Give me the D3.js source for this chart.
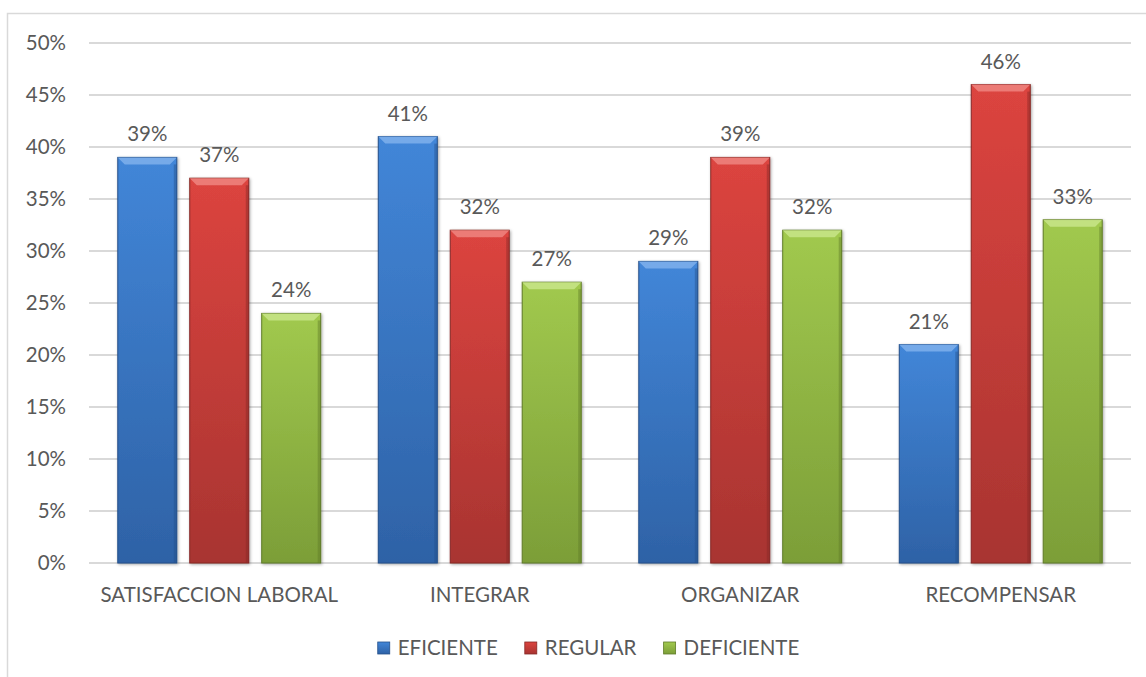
<!DOCTYPE html>
<html>
<head>
<meta charset="utf-8">
<script src="https://cdn.jsdelivr.net/npm/d3@7"></script>
<style>
body { margin: 0; background: #fff; }
text { font-family: Lato, "Open Sans", sans-serif; fill: #595959; }
</style>
</head>
<body>
<div id="chart"></div>
<script>
// data
var categories = ["SATISFACCION LABORAL", "INTEGRAR", "ORGANIZAR", "RECOMPENSAR"];
var seriesNames = ["EFICIENTE", "REGULAR", "DEFICIENTE"];
var eficiente = [39, 41, 29, 21];
var regular = [37, 32, 39, 46];
var deficiente = [24, 27, 32, 33];
var yTicks = [0, 5, 10, 15, 20, 25, 30, 35, 40, 45, 50];

var seriesValues = [eficiente, regular, deficiente];
var colors = {
    EFICIENTE: { top: "#4286d8", bottom: "#2e62a6", edge: "#24508a", bevel: "#7fb0ec" },
    REGULAR: { top: "#dc443f", bottom: "#a83431", edge: "#862826", bevel: "#ee8580" },
    DEFICIENTE: { top: "#a1c94e", bottom: "#7c9e38", edge: "#5f7b28", bevel: "#c8e58a" }
};

var width = 1146;
var height = 677;
var fontSize = "20.5px";

var svg = d3.select("#chart").append("svg")
    .attr("width", width)
    .attr("height", height);

var defs = svg.append("defs");
seriesNames.forEach(function(name) {
    var g = defs.append("linearGradient")
        .attr("id", "grad-" + name)
        .attr("x1", 0).attr("y1", 0).attr("x2", 0).attr("y2", 1);
    g.append("stop").attr("offset", "0%").attr("stop-color", colors[name].top);
    g.append("stop").attr("offset", "100%").attr("stop-color", colors[name].bottom);
});
var shadow = defs.append("filter").attr("id", "shadow")
    .attr("x", "-20%").attr("y", "-10%").attr("width", "140%").attr("height", "120%");
shadow.append("feDropShadow")
    .attr("dx", 1).attr("dy", 1).attr("stdDeviation", 1.5)
    .attr("flood-color", "#000").attr("flood-opacity", 0.35);

// outer chart frame (continues off the right/bottom edge)
svg.append("rect")
    .attr("x", 7.5).attr("y", 13.5)
    .attr("width", 1150).attr("height", 700)
    .attr("fill", "none")
    .attr("stroke", "#d9d9d9")
    .attr("stroke-width", 1.5);

var y = d3.scaleLinear()
    .domain([0, 50])
    .range([563, 43]);

var x0 = d3.scaleBand()
    .domain(categories)
    .range([89, 1131]);

var x1 = d3.scaleBand()
    .domain(seriesNames)
    .range([0, x0.bandwidth()])
    .paddingInner(0.18)
    .paddingOuter(0.4);

// gridlines
svg.append("g")
    .selectAll("line")
    .data(yTicks)
    .enter().append("line")
    .attr("x1", 89)
    .attr("x2", 1131)
    .attr("y1", function(d) { return y(d); })
    .attr("y2", function(d) { return y(d); })
    .attr("stroke", "#d9d9d9")
    .attr("stroke-width", 2);

// y labels
svg.append("g")
    .selectAll("text")
    .data(yTicks)
    .enter().append("text")
    .attr("x", 66)
    .attr("y", function(d) { return y(d); })
    .attr("dy", "0.35em")
    .attr("text-anchor", "end")
    .style("font-size", fontSize)
    .text(function(d) { return d + "%"; });

// category labels
svg.append("g")
    .selectAll("text")
    .data(categories)
    .enter().append("text")
    .attr("x", function(d) { return x0(d) + x0.bandwidth() / 2; })
    .attr("y", 595)
    .attr("dy", "0.35em")
    .attr("text-anchor", "middle")
    .style("font-size", fontSize)
    .text(function(d) { return d; });

// bars
var rows = [];
categories.forEach(function(cat, i) {
    seriesNames.forEach(function(name, j) {
        rows.push({ cat: cat, series: name, value: seriesValues[j][i] });
    });
});

var bars = svg.append("g").selectAll("g.bar")
    .data(rows)
    .enter().append("g")
    .attr("class", "bar")
    .attr("transform", function(d) {
        return "translate(" + (x0(d.cat) + x1(d.series)) + ",0)";
    });

var bw = x1.bandwidth();
var bevel = 7;

bars.append("rect")
    .attr("x", 0)
    .attr("y", function(d) { return y(d.value); })
    .attr("width", bw)
    .attr("height", function(d) { return y(0) - y(d.value); })
    .attr("fill", function(d) { return "url(#grad-" + d.series + ")"; })
    .attr("stroke", function(d) { return colors[d.series].edge; })
    .attr("stroke-width", 1)
    .attr("filter", "url(#shadow)");

// top bevel
bars.append("path")
    .attr("d", function(d) {
        var t = y(d.value);
        return "M0," + t + "L" + bw + "," + t + "L" + (bw - bevel) + "," + (t + bevel) +
            "L" + bevel + "," + (t + bevel) + "Z";
    })
    .attr("fill", function(d) { return colors[d.series].bevel; })
    .attr("opacity", 0.85);

// side shading
bars.append("rect")
    .attr("x", bw - 3)
    .attr("y", function(d) { return y(d.value) + bevel; })
    .attr("width", 3)
    .attr("height", function(d) { return y(0) - y(d.value) - bevel; })
    .attr("fill", function(d) { return colors[d.series].edge; })
    .attr("opacity", 0.45);

// value labels
bars.append("text")
    .attr("x", bw / 2)
    .attr("y", function(d) { return y(d.value) - 16; })
    .attr("text-anchor", "middle")
    .style("font-size", fontSize)
    .text(function(d) { return d.value + "%"; });

// legend
var legend = svg.append("g");
var items = legend.selectAll("g")
    .data(seriesNames)
    .enter().append("g");
items.append("rect")
    .attr("width", 12).attr("height", 12)
    .attr("y", -6)
    .attr("fill", function(d) { return "url(#grad-" + d + ")"; })
    .attr("stroke", function(d) { return colors[d].edge; })
    .attr("stroke-width", 0.8);
items.append("text")
    .attr("x", 20)
    .attr("dy", "0.35em")
    .style("font-size", fontSize)
    .text(function(d) { return d; });
var offsets = [];
var cursor = 0;
items.each(function() {
    offsets.push(cursor);
    cursor += this.getBBox().width + 27;
});
cursor -= 27;
items.attr("transform", function(d, i) { return "translate(" + offsets[i] + ",0)"; });
legend.attr("transform", "translate(" + (588.5 - cursor / 2) + ",648)");
</script>
</body>
</html>
